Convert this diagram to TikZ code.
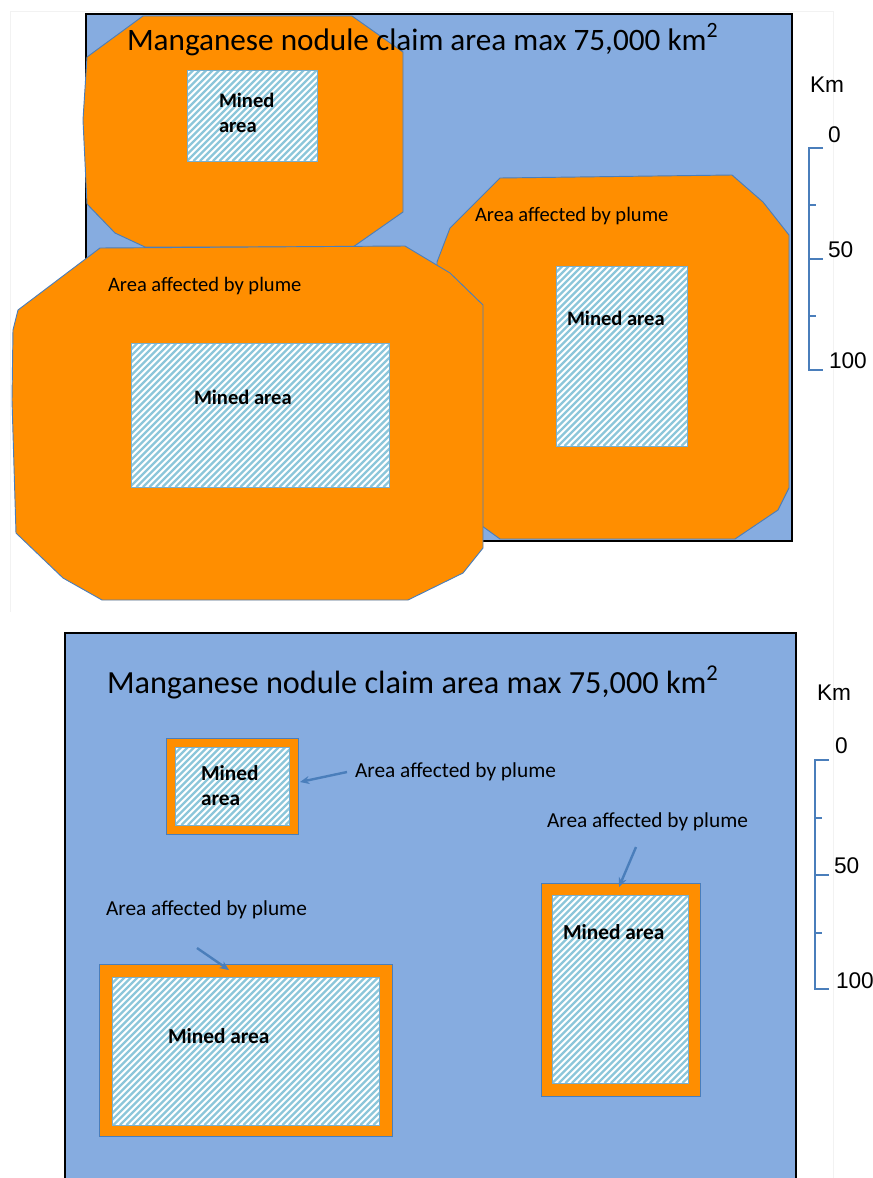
\documentclass[tikz,border=0pt]{standalone}
\usepackage{fontspec}
\setmainfont{Carlito}
\newfontfamily\kmFont{Liberation Sans}
\usetikzlibrary{arrows.meta}
\definecolor{claimBlue}{RGB}{134,172,224}
\definecolor{plumeOrange}{RGB}{255,142,0}
\definecolor{edgeBlue}{RGB}{74,126,187}
\definecolor{hatchBlue}{RGB}{140,198,218}
\newcommand{\titleSize}{\fontsize{23.4}{28}\selectfont}
\newcommand{\titleSizeLower}{\fontsize{24.2}{29}\selectfont}
\newcommand{\plumeSize}{\fontsize{15.4}{18}\selectfont}
\newcommand{\plumeSizeLower}{\fontsize{16}{19}\selectfont}
\newcommand{\minedSize}{\fontsize{15.4}{18.75}\selectfont\bfseries}
\newcommand{\minedSizeLower}{\fontsize{16}{18.75}\selectfont\bfseries}
\newcommand{\kmSize}{\kmFont\fontsize{17}{20}\selectfont}
% hatched mined patch: left, top, right, bottom
\newcommand{\minedPatch}[4]{%
	\begin{scope}
		\clip (#1,#2) rectangle (#3,#4);
		\fill[white] (#1,#2) rectangle (#3,#4);
		\pgfmathsetmacro{\hatchStart}{#1-(#4-#2)}
		\pgfmathsetmacro{\hatchNext}{\hatchStart+6.5}
		\foreach \hx in {\hatchStart,\hatchNext,...,#3}
			\draw[hatchLine] (\hx,#4) -- ++({#4-#2},{#2-#4});
	\end{scope}
	\draw[minedEdge] (#1,#2) rectangle (#3,#4);}

\begin{document}
\begin{tikzpicture}[x=0.75pt, y=-0.75pt, every node/.style={inner sep=0pt, outer sep=0pt, anchor=base west},
		claim/.style={fill=claimBlue, draw=black, line width=1.6pt},
		plume/.style={fill=plumeOrange, draw=edgeBlue, line width=0.7pt},
		hatchLine/.style={draw=hatchBlue, line width=1.7pt},
		minedEdge/.style={draw=hatchBlue!70!edgeBlue, line width=0.6pt},
		plumeArrow/.style={draw=edgeBlue, line width=1.8pt, -{Stealth[length=7pt, width=6pt]}},
		kmBar/.style={draw=edgeBlue, line width=1.9pt}]
	\useasboundingbox (0,0) rectangle (873,1178);
	% faint slide edges
	\draw[gray!10, line width=0.5pt] (10,612) -- (10,11) -- (833,11) -- (833,1178);

	%% upper panel: plumes spread far
	\path[claim] (86,14) rectangle (792,541);
	\path[plume] (143,16) -- (352,16) -- (403,52) -- (403,212) -- (353,247) -- (145,247) -- (115,233)
		-- (87,204) -- (83,120) -- (87,57) -- cycle;
	\path[plume] (500,178) -- (732,175) -- (763,202) -- (789,235) -- (789,488) -- (778,510) -- (735,539)
		-- (500,539) -- (460,510) -- (437,470) -- (437,262) -- (450,228) -- cycle;
	\path[plume] (100,248) -- (405,246) -- (450,273) -- (483,305) -- (483,548) -- (463,573) -- (408,600)
		-- (102,600) -- (63,578) -- (16,533) -- (12,400) -- (13,330) -- (18,310) -- cycle;
	\minedPatch{187}{70}{317}{161}
	\minedPatch{131}{343}{389}{487}
	\minedPatch{556}{266}{687}{446}

	\node[font=\titleSize] (titleUpper) at (127,50) {Manganese nodule claim area max 75,000 km\textsuperscript{2}};
	\node[font=\minedSize, align=left] (minedUpperSmall) at (219,132) {Mined\\area};
	\node[font=\minedSize] (minedUpperLeft) at (194,404) {Mined area};
	\node[font=\minedSize] (minedUpperRight) at (567,325) {Mined area};
	\node[font=\plumeSize] (plumeUpperLeft) at (108,291) {Area affected by plume};
	\node[font=\plumeSize] (plumeUpperRight) at (475,221) {Area affected by plume};

	% km scale
	\draw[kmBar] (823,148) -- (809,148) -- (809,370) -- (823,370);
	\draw[kmBar] (809,259) -- (823,259);
	\draw[kmBar] (809,205) -- (816,205) (809,316) -- (816,316);
	\node[font=\kmSize] (kmUpper) at (810,92) {Km};
	\node[font=\kmSize] (kmUpperZero) at (828,142) {0};
	\node[font=\kmSize] (kmUpperFifty) at (828,257) {50};
	\node[font=\kmSize] (kmUpperHundred) at (829,368) {100};

	%% lower panel: plumes kept small
	\path[claim] (65,633) rectangle (796,1190);
	\path[plume] (166,738) rectangle (298,834);
	\path[plume] (99,964) rectangle (392,1136);
	\path[plume] (541,883) rectangle (700,1096);
	\minedPatch{175}{747}{289}{825}
	\minedPatch{112}{977}{379}{1125}
	\minedPatch{552}{895}{688}{1083}

	\node[font=\titleSizeLower] (titleLower) at (107,693) {Manganese nodule claim area max 75,000 km\textsuperscript{2}};
	\node[font=\minedSizeLower, align=left] (minedLowerSmall) at (201,805) {Mined\\area};
	\node[font=\minedSizeLower] (minedLowerLeft) at (168,1043) {Mined area};
	\node[font=\minedSizeLower] (minedLowerRight) at (563,939) {Mined area};
	\node[font=\plumeSizeLower] (plumeLowerSmall) at (355,777) {Area affected by plume};
	\node[font=\plumeSizeLower] (plumeLowerRight) at (547,827) {Area affected by plume};
	\node[font=\plumeSizeLower] (plumeLowerLeft) at (106,915) {Area affected by plume};

	\coordinate (tailSmall) at (347,772);
	\coordinate (tipSmall) at (300,782);
	\coordinate (tailRight) at (636,847);
	\coordinate (tipRight) at (619,887);
	\coordinate (tailLeft) at (197,948);
	\coordinate (tipLeft) at (229,970);
	\draw[plumeArrow] (tailSmall) -- (tipSmall);
	\draw[plumeArrow] (tailRight) -- (tipRight);
	\draw[plumeArrow] (tailLeft) -- (tipLeft);

	% km scale
	\draw[kmBar] (829,760) -- (815,760) -- (815,989) -- (829,989);
	\draw[kmBar] (815,875) -- (829,875);
	\draw[kmBar] (815,818) -- (822,818) (815,933) -- (822,933);
	\node[font=\kmSize] (kmLower) at (817,700) {Km};
	\node[font=\kmSize] (kmLowerZero) at (835,753) {0};
	\node[font=\kmSize] (kmLowerFifty) at (834,873) {50};
	\node[font=\kmSize] (kmLowerHundred) at (836,988) {100};
\end{tikzpicture}
\end{document}
